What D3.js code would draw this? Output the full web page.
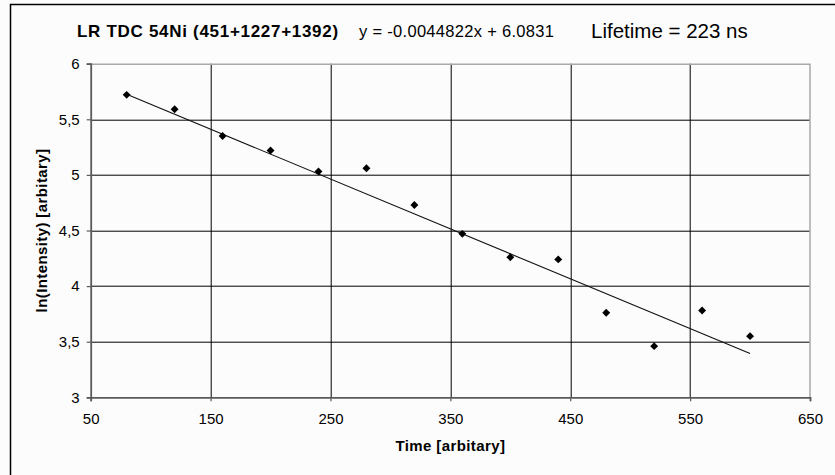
<!DOCTYPE html>
<html>
<head>
<meta charset="utf-8">
<script src="https://cdn.jsdelivr.net/npm/d3@7"></script>
<style>
    body { margin: 0; background: #fcfcfc; }
    svg text { font-family: "Liberation Sans", Arial, sans-serif; fill: #000; }
</style>
</head>
<body>
<script>
(function(){
    // Data
    var timeValues = [80, 120, 160, 200, 240, 280, 320, 360, 400, 440, 480, 520, 560, 600];
    var lnIntensity = [5.72, 5.59, 5.35, 5.22, 5.03, 5.06, 4.73, 4.47, 4.26, 4.24, 3.76, 3.46, 3.78, 3.55];
    var xTicks = [50, 150, 250, 350, 450, 550, 650];
    var yTicks = [3, 3.5, 4, 4.5, 5, 5.5, 6];
    // Linear trendline given on the chart
    var slope = -0.0044822,
        intercept = 6.0831;

    var width = 835, height = 475;
    var margin = { top: 63.7, right: 25, bottom: 77.7, left: 90.7 };
    var innerWidth = width - margin.left - margin.right,
        innerHeight = height - margin.top - margin.bottom;

    // Comma as decimal separator, like the original
    var locale = d3.formatLocale({ decimal: ",", thousands: ".", grouping: [3], currency: ["", ""] });
    var fmt = locale.format("~g");

    var svg = d3.select("body").append("svg")
        .attr("width", width)
        .attr("height", height);

    // Outer chart frame (only top and left edges show)
    svg.append("path")
        .attr("d", "M10.5," + height + "V4.5H" + width)
        .attr("fill", "none")
        .attr("stroke", "#000")
        .attr("stroke-width", 1.5);

    var x = d3.scaleLinear().domain([50, 650]).range([0, innerWidth]);
    var y = d3.scaleLinear().domain([3, 6]).range([innerHeight, 0]);

    var g = svg.append("g")
        .attr("transform", "translate(" + margin.left + "," + margin.top + ")");

    g.append("rect")
        .attr("width", innerWidth)
        .attr("height", innerHeight)
        .attr("fill", "#fcfcfc");

    // Gridlines
    g.append("g").selectAll("line")
        .data(yTicks.slice(1, -1))
        .enter().append("line")
        .attr("x1", 0).attr("x2", innerWidth)
        .attr("y1", d => Math.round(y(d)) + 0.5).attr("y2", d => Math.round(y(d)) + 0.5)
        .attr("stroke", "#000");
    g.append("g").selectAll("line")
        .data(xTicks.slice(1, -1))
        .enter().append("line")
        .attr("y1", 0).attr("y2", innerHeight)
        .attr("x1", d => Math.round(x(d)) + 0.5).attr("x2", d => Math.round(x(d)) + 0.5)
        .attr("stroke", "#000");

    // Plot border top/right in light grey
    g.append("path")
        .attr("d", "M0,0.5H" + innerWidth + "V" + innerHeight)
        .attr("fill", "none")
        .attr("stroke", "#a8a8a8")
        .attr("stroke-width", 1.5);

    // Axes
    var xAxis = d3.axisBottom(x).tickValues(xTicks).tickFormat(fmt).tickSize(4).tickPadding(12);
    var yAxis = d3.axisLeft(y).tickValues(yTicks).tickFormat(fmt).tickSize(4).tickPadding(7);

    var gx = g.append("g")
        .attr("transform", "translate(0," + innerHeight + ")")
        .call(xAxis);
    var gy = g.append("g").call(yAxis);

    [gx, gy].forEach(function(a){
        a.select(".domain").attr("stroke", "#5a5a5a").attr("stroke-width", 1.8);
        a.selectAll(".tick line").attr("stroke", "#5a5a5a").attr("stroke-width", 1.2);
        a.selectAll(".tick text")
            .style("font-family", "'Liberation Sans', Arial, sans-serif")
            .style("font-size", "15px")
            .attr("fill", "#222");
    });

    // Trendline
    var trend = d3.line()
        .x(d => x(d))
        .y(d => y(slope * d + intercept));
    g.append("path")
        .datum([d3.min(timeValues), d3.max(timeValues)])
        .attr("d", trend)
        .attr("fill", "none")
        .attr("stroke", "#111")
        .attr("stroke-width", 1.1);

    // Diamond markers
    var diamond = d3.symbol().type(d3.symbolDiamond2).size(40);
    g.append("g").selectAll("path")
        .data(timeValues)
        .enter().append("path")
        .attr("transform", (d, i) => "translate(" + x(d) + "," + y(lnIntensity[i]) + ")")
        .attr("d", diamond)
        .attr("fill", "#000");

    // Titles
    svg.append("text")
        .attr("x", 77).attr("y", 37)
        .style("font-size", "17px")
        .style("font-weight", "bold")
        .style("letter-spacing", "0.7px")
        .text("LR TDC 54Ni (451+1227+1392)");

    svg.append("text")
        .attr("x", 359).attr("y", 37)
        .style("font-size", "16.5px")
        .style("letter-spacing", "0.3px")
        .attr("fill", "#222")
        .text("y = -0.0044822x + 6.0831");

    svg.append("text")
        .attr("x", 591).attr("y", 38)
        .style("font-size", "20.5px")
        .text("Lifetime = 223 ns");

    svg.append("text")
        .attr("x", margin.left + innerWidth / 2).attr("y", 451)
        .attr("text-anchor", "middle")
        .style("font-size", "15px")
        .style("font-weight", "bold")
        .style("letter-spacing", "0.4px")
        .text("Time [arbitary]");

    svg.append("text")
        .attr("transform", "translate(47," + (margin.top + innerHeight / 2) + ") rotate(-90)")
        .attr("text-anchor", "middle")
        .style("font-size", "15px")
        .style("font-weight", "bold")
        .style("letter-spacing", "0.4px")
        .text("ln(Intensity) [arbitary]");
})();
</script>
</body>
</html>
